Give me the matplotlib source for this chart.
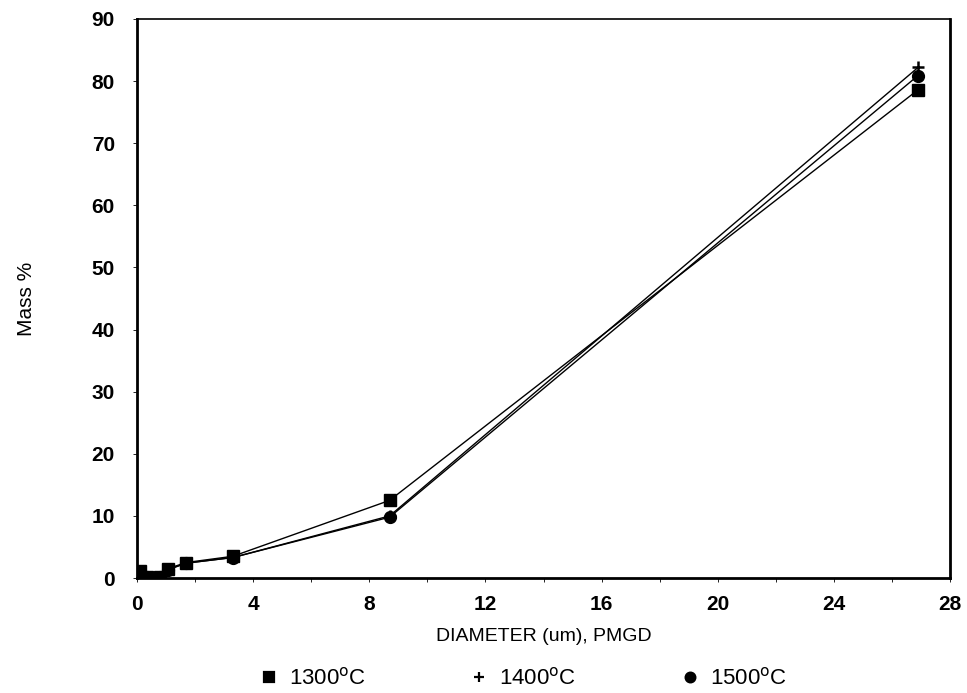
import matplotlib

matplotlib.use("Agg")
import matplotlib.pyplot as plt
from matplotlib.lines import Line2D
from matplotlib.ticker import MultipleLocator

# particle-size distribution by temperature
diameter = [0.1, 0.35, 0.55, 0.8, 1.05, 1.7, 3.3, 8.7, 26.9]
mass_1300 = [1.2, 0.2, 0.0, 0.2, 1.5, 2.5, 3.5, 12.5, 78.6]
mass_1400 = [1.0, 0.1, 0.0, 0.1, 1.4, 2.4, 3.3, 10.0, 82.2]
mass_1500 = [0.9, 0.1, 0.0, 0.1, 1.3, 2.4, 3.3, 9.8, 80.9]
labels = ["1300$^{\\mathrm{o}}$C", "1400$^{\\mathrm{o}}$C", "1500$^{\\mathrm{o}}$C"]
markers = ["s", "+", "o"]

plt.rcParams["font.family"] = ["Liberation Sans", "DejaVu Sans"]

fig = plt.figure(figsize=(9.67, 6.93), dpi=100)
ax = fig.add_axes([0.1417, 0.1659, 0.8407, 0.8067])

ax.plot(diameter, mass_1300, color="black", lw=1.0, marker="s", ms=8)
ax.plot(diameter, mass_1400, color="black", lw=1.0, marker="+", ms=8, mew=1.8)
ax.plot(diameter, mass_1500, color="black", lw=1.0, marker="o", ms=8.5)

ax.set_xlim(0, 28)
ax.set_ylim(0, 90)
ax.xaxis.set_major_locator(MultipleLocator(4))
ax.xaxis.set_minor_locator(MultipleLocator(2))
ax.yaxis.set_major_locator(MultipleLocator(10))
ax.tick_params(axis="both", which="major", length=3, width=0.6, labelsize=15)
ax.tick_params(axis="x", which="major", pad=9)
ax.tick_params(axis="y", which="major", pad=13)
ax.tick_params(axis="both", which="minor", length=3, width=0.6)
for lbl in ax.get_xticklabels() + ax.get_yticklabels():
    lbl.set_fontweight("bold")

for side in ["left", "bottom", "right"]:
    ax.spines[side].set_linewidth(2.0)
ax.spines["top"].set_linewidth(1.2)

ax.set_xlabel("DIAMETER (um), PMGD", fontsize=14, labelpad=10)
ax.set_ylabel("Mass %", fontsize=15, labelpad=40)

# legend uses bare markers, no line segments
handles = [Line2D([], [], color="black", ls="none", marker=m, ms=7, mew=1.6) for m in markers]
ax.legend(handles, labels, loc="upper center", bbox_to_anchor=(0.474, -0.144), ncol=3,
          frameon=False, fontsize=16, handlelength=1.0, columnspacing=4.6,
          handletextpad=0.4, borderaxespad=0)

fig.savefig("out.png", dpi=100)
